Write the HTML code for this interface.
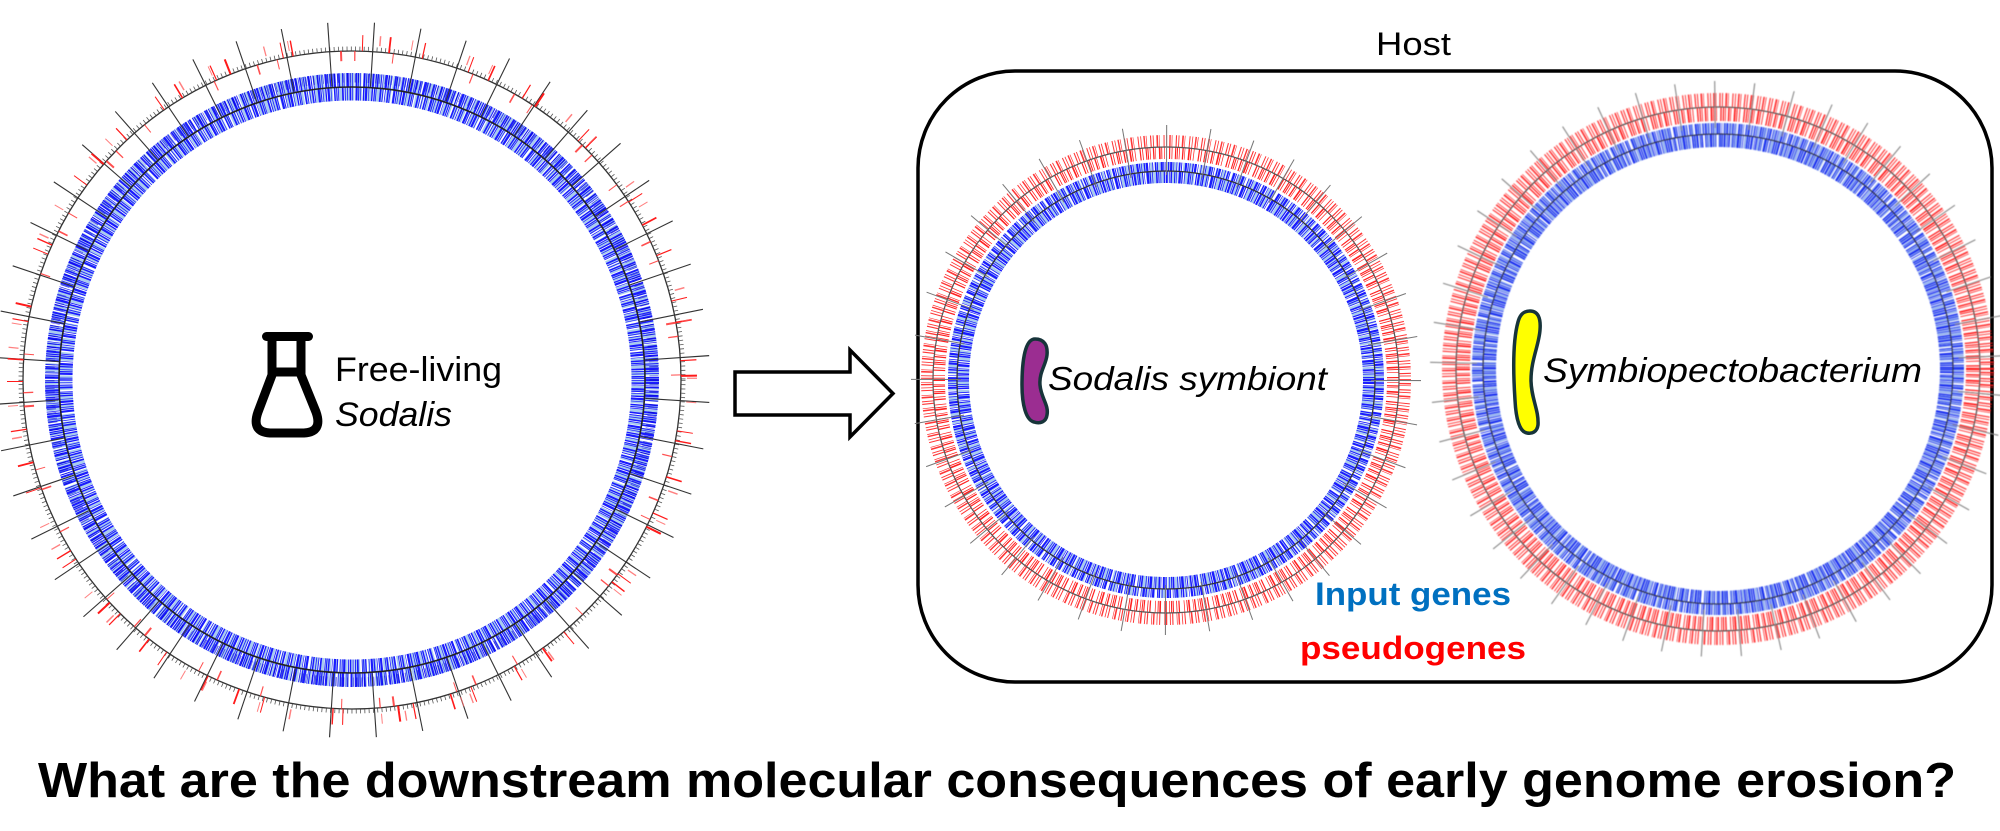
<!DOCTYPE html>
<html>
<head>
<meta charset="utf-8">
<style>
  html,body{margin:0;padding:0;background:#fff;}
  svg{display:block;}
  circle{fill:none;}
  text{font-family:"Liberation Sans", Arial, sans-serif;}
</style>
</head>
<body>
<svg width="2000" height="831" viewBox="0 0 2000 831" xmlns="http://www.w3.org/2000/svg">
  <defs>
    <filter id="blur" x="-10%" y="-10%" width="120%" height="120%">
      <feGaussianBlur stdDeviation="0.6"/>
    </filter>
  </defs>

  <!-- ================= LEFT CIRCLE (free-living) ================= -->
  <g transform="translate(352,380)">
    <circle r="300" stroke="#a9cbee" stroke-width="14" stroke-dasharray="5 1.5 3 2 7 1 2 3 4 1 6 2"/>
    <circle r="286" stroke="#a9cbee" stroke-width="13" stroke-dasharray="4 2 6 1 3 2.5 5 1.5 2 2"/>
    <circle r="300" stroke="#1a1aff" stroke-width="14" stroke-dasharray="1.2 0.8 2 1.5 0.7 0.6 1.5 2.2 1 0.9 0.6 1.8 2.4 0.7 1.1 1.3 0.8 3 1.6 0.6 1 1.2 0.7 2.6 1.9 0.8 0.9 1.4 1.2 0.7"/>
    <circle r="286" stroke="#1a1aff" stroke-width="13" stroke-dasharray="0.8 1.6 1.5 0.7 0.9 2.8 2.1 0.6 1 1.1 0.7 1.9 1.3 0.8 2.2 1.2 0.6 2.4 1.4 0.9 1.1 0.6 0.8 3.2 1.7 1 0.9 1.5"/>
    <circle r="302" stroke="#0000cc" stroke-width="9" opacity="0.6" stroke-dasharray="0.7 3 1 2 0.6 4 1.2 2.5 0.8 5"/>
    <circle r="293" stroke="#222" stroke-width="1.6"/>
    <circle r="329" stroke="#333" stroke-width="1.3"/>
    <circle r="331.5" stroke="#555" stroke-width="4" stroke-dasharray="0.8 3.5"/>
    <g transform="rotate(-4)">
      <circle r="326" stroke="#333" stroke-width="64" stroke-dasharray="1.1 41.57"/>
    </g>
    <g transform="rotate(17)">
      <circle r="337" stroke="#ff1a1a" stroke-width="16" stroke-dasharray="1.6 38 1.2 14 2 55 1 9 1.4 70 1 26 1.8 33 1.2 48 1 21"/>
    </g>
    <g transform="rotate(-33)">
      <circle r="324" stroke="#ff3030" stroke-width="10" opacity="0.85" stroke-dasharray="1.2 44 1.6 19 1 62 2 12 1.3 37 1 80"/>
    </g>
    <g transform="rotate(71)">
      <circle r="340" stroke="#ff6060" stroke-width="10" opacity="0.8" stroke-dasharray="1 57 1.3 23 1 91 1.5 31"/>
    </g>
  </g>

  <!-- Flask icon -->
  <g stroke="#000" stroke-width="9" fill="none" stroke-linejoin="round" stroke-linecap="round">
    <path d="M272 341 L272 375 L258 412 Q251 432 270 433 L304 433 Q323 432 316 412 L301 375 L301 341"/>
    <path d="M272 372 L301 372"/>
  </g>
  <rect x="262" y="332" width="51" height="9" rx="4.5" fill="#000"/>

  <text x="335" y="381" font-size="34" textLength="167" lengthAdjust="spacingAndGlyphs">Free-living</text>
  <text x="335" y="426" font-size="34" font-style="italic" textLength="117" lengthAdjust="spacingAndGlyphs">Sodalis</text>

  <!-- ================= ARROW ================= -->
  <polygon points="735,372 850,372 850,350 893,393.5 850,437 850,415 735,415" fill="#fff" stroke="#000" stroke-width="3.5" stroke-linejoin="miter"/>

  <!-- ================= HOST BOX ================= -->
  <text x="1376" y="55" font-size="32" textLength="75" lengthAdjust="spacingAndGlyphs">Host</text>
  <rect x="918" y="71" width="1074" height="611" rx="97" ry="97" fill="none" stroke="#000" stroke-width="3.5"/>

  <!-- ================= MIDDLE CIRCLE (Sodalis symbiont) ================= -->
  <g transform="translate(1166,380)">
    <circle r="203" stroke="#a9cbee" stroke-width="12" stroke-dasharray="4 2 5 1.5 3 3 6 1"/>
    <circle r="213.5" stroke="#a9cbee" stroke-width="9" stroke-dasharray="3 2.5 5 1 2 3"/>
    <circle r="203" stroke="#1a1aff" stroke-width="12" stroke-dasharray="1.2 0.8 2 1.5 0.7 0.6 1.5 2.2 1 0.9 0.6 1.8 2.4 0.7 1.1 1.3 0.8 3 1.6 0.6 1 1.2 0.7 2.6"/>
    <circle r="213.5" stroke="#1a1aff" stroke-width="9" stroke-dasharray="0.8 1.6 1.5 0.7 0.9 2.8 2.1 0.6 1 1.1 0.7 1.9 1.3 0.8 2.2 1.2 0.6 2.4"/>
    <circle r="227" stroke="#ff2020" stroke-width="12" stroke-dasharray="1 1.2 0.7 2.4 1.3 0.9 0.6 3.1 1.6 0.8 0.9 2 0.7 4.2 1.2 1.4 0.8 2.6 1.1 0.7"/>
    <circle r="239" stroke="#ff2020" stroke-width="12" opacity="0.9" stroke-dasharray="0.8 2.2 1.4 1 0.7 3.4 1.1 1.5 0.9 2.7 1.6 0.9 0.6 4 1 1.8"/>
    <circle r="209" stroke="#333" stroke-width="1.3"/>
    <circle r="233" stroke="#555" stroke-width="1.2"/>
    <circle r="230" stroke="#777" stroke-width="50" stroke-dasharray="1 39.14"/>
  </g>
  <path d="M1035 339 C1044 339 1048 345 1047 355 C1046 365 1039 372 1040 385 C1041 398 1049 405 1047 415 C1046 422 1040 424 1034 422 C1026 420 1022 405 1022 385 C1022 365 1024 339 1035 339 Z" fill="#9b2d91" stroke="#17343a" stroke-width="3.5"/>
  <text x="1048" y="390" font-size="33" font-style="italic" textLength="279" lengthAdjust="spacingAndGlyphs">Sodalis symbiont</text>

  <!-- ================= RIGHT CIRCLE (Symbiopectobacterium) ================= -->
  <g transform="translate(1718,369)" filter="url(#blur)">
    <circle r="228.5" stroke="#9db8f0" stroke-width="13" stroke-dasharray="4 2 5 1.5 3 3 6 1"/>
    <circle r="240.5" stroke="#9db8f0" stroke-width="11" stroke-dasharray="3 2.5 5 1 2 3"/>
    <circle r="228.5" stroke="#1a30f0" stroke-width="13" stroke-dasharray="1.4 0.8 2 1.5 0.8 0.6 1.5 2.2 1.2 0.9 0.7 1.8 2.4 0.7 1.1 1.3 0.9 3 1.6 0.6"/>
    <circle r="240.5" stroke="#1a30f0" stroke-width="11" opacity="0.9" stroke-dasharray="1 1.6 1.5 0.7 0.9 2.8 2.1 0.6 1.2 1.1 0.7 1.9 1.3 0.8 2.2 1.2"/>
    <circle r="255" stroke="#ff1a1a" stroke-width="14" stroke-dasharray="1.2 1 0.8 2.2 1.4 0.9 0.7 2.8 1.7 0.8 1 1.8 0.8 3.6 1.3 1.2"/>
    <circle r="269" stroke="#ff1a1a" stroke-width="14" opacity="0.9" stroke-dasharray="0.9 2 1.5 1 0.8 3 1.2 1.4 1 2.4 1.7 0.9 0.7 3.5 1.1 1.6"/>
    <circle r="235" stroke="#333" stroke-width="1.3"/>
    <circle r="262" stroke="#555" stroke-width="1.3"/>
    <g transform="rotate(5.2)">
      <circle r="264.5" stroke="#888" stroke-width="47" stroke-dasharray="1.1 35.83"/>
    </g>
  </g>
  <path d="M1530 311 C1538 311 1541 318 1540 330 C1539 345 1531 360 1531 380 C1531 398 1539 410 1538 425 C1537 432 1532 434 1527 433 C1520 432 1516 420 1515 400 C1513 370 1513 340 1518 322 C1520 314 1524 311 1530 311 Z" fill="#ffff00" stroke="#17343a" stroke-width="3.5"/>
  <text x="1543" y="382" font-size="34" font-style="italic" textLength="379" lengthAdjust="spacingAndGlyphs">Symbiopectobacterium</text>

  <!-- Legend -->
  <text x="1315" y="605" font-size="32" font-weight="bold" fill="#0070c0" textLength="196" lengthAdjust="spacingAndGlyphs">Input genes</text>
  <text x="1300" y="659" font-size="32" font-weight="bold" fill="#ff0000" textLength="226" lengthAdjust="spacingAndGlyphs">pseudogenes</text>

  <!-- Title -->
  <text x="38" y="797" font-size="49" font-weight="bold" textLength="1918" lengthAdjust="spacingAndGlyphs">What are the downstream molecular consequences of early genome erosion?</text>
</svg>
</body>
</html>
